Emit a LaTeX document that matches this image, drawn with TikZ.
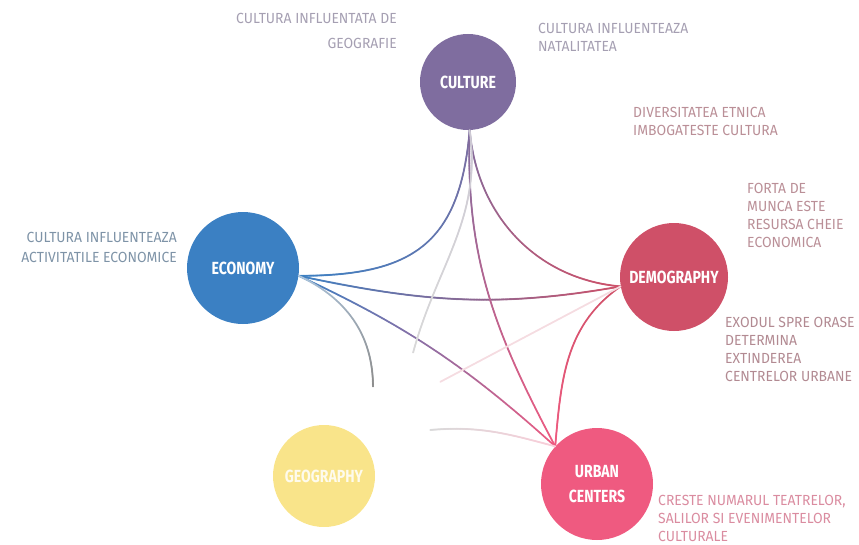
\documentclass[tikz,border=0pt]{standalone}
\usepackage{fontspec}
\setsansfont{Fira Sans}
\newfontfamily\notefont{Fira Sans}[FakeStretch=0.95]
\newfontfamily\circfont{Fira Sans}[FakeStretch=0.8]
\usetikzlibrary{decorations.markings}
\definecolor{cul}{HTML}{7F6D9F}
\definecolor{eco}{HTML}{3B80C3}
\definecolor{dem}{HTML}{CF5068}
\definecolor{geo}{HTML}{F9E48A}
\definecolor{urb}{HTML}{EF5A80}
\begin{document}
\begin{tikzpicture}[x=0.3mm, y=-0.3mm,
  main/.style = {circle, text=white, align=center, inner sep=0pt, font=\circfont\bfseries\fontsize{15}{22}\selectfont},
  note/.style = {inner sep=0pt, font=\notefont\fontsize{12.5}{15.5}\selectfont},
  link/.style 2 args = {postaction={decorate, decoration={markings,
    mark=between positions 0 and 1 step 0.5pt with {
      \pgfmathtruncatemacro\mixval{100-100*(\pgfkeysvalueof{/pgf/decoration/mark info/distance from start}/\pgfdecoratedpathlength)}
      \fill[#1!\mixval!#2] (0,0) circle (0.85pt);}}}}]
\useasboundingbox (0,0) rectangle (859,544);

\node[main, fill=cul, minimum size=28.8mm] (1) at (468,82) {CULTURE};
\node[main, fill=eco, minimum size=33.6mm] (2) at (243,268) {ECONOMY};
\node[main, fill=dem, minimum size=32.4mm] (3) at (674,277) {DEMOGRAPHY};
\node[main, fill=geo, text=white!85!geo, minimum size=30.6mm] (4) at (324,476) {GEOGRAPHY};
\node[main, fill=urb, minimum size=33.6mm] (5) at (597,484) {URBAN\\CENTERS};

\node[note, text=cul!55!gray!70, anchor=north east, align=right, font=\notefont\fontsize{12.5}{21}\selectfont] (6) at (397,13) {CULTURA INFLUENTATA DE\\GEOGRAFIE};
\node[note, text=cul!55!gray!70, anchor=north west, align=left] (7) at (538,23) {CULTURA INFLUENTEAZA\\NATALITATEA};
\node[note, text=dem!45!gray!75, anchor=north west, align=left] (8) at (633,107) {DIVERSITATEA ETNICA\\IMBOGATESTE CULTURA};
\node[note, text=dem!45!gray!75, anchor=north west, align=left] (9) at (747,183) {FORTA DE\\MUNCA ESTE\\RESURSA CHEIE\\ECONOMICA};
\node[note, text=eco!35!gray!85, anchor=north east, align=right, font=\notefont\fontsize{12.5}{17}\selectfont] (10) at (177,232) {CULTURA INFLUENTEAZA\\ACTIVITATILE ECONOMICE};
\node[note, text=dem!40!gray!80, anchor=north west, align=left] (11) at (725,317) {EXODUL SPRE ORASE\\DETERMINA\\EXTINDEREA\\CENTRELOR URBANE};
\node[note, text=urb!70!gray!75, anchor=north west, align=left] (12) at (658,495) {CRESTE NUMARUL TEATRELOR,\\SALILOR SI EVENIMENTELOR\\CULTURALE};

\coordinate (g1) at (373,387);
\coordinate (g2) at (413,353);
\coordinate (g3) at (440,382);
\coordinate (g4) at (430,430);

\path[link={eco}{cul}] (2.-8) to[out=0, in=-95, looseness=1.3] (1.-88);
\path[link={eco}{dem}] (2.-8) to[out=-12, in=190] (3.190);
\path[link={eco}{urb}] (2.-8) to[out=-25, in=138] (5.138);
\path[link={eco!80!gray}{black!45}] (2.-8) to[out=-25, in=90] (g1);
\path[link={cul}{dem}] (1.-88) to[out=-85, in=175] (3.190);
\path[link={cul}{urb}] (1.-88) to[out=-92, in=118] (5.138);
\path[link={cul!70!black}{gray!30}] (1.-88) to[out=-82, in=75] (g2);
\path[link={dem}{urb}] (3.190) to[out=215, in=85] (5.138);
\path[link={dem}{dem!20!white}] (3.190) -- (g3);
\path[link={urb}{gray!30}] (5.138) to[out=165, in=5] (g4);

\end{tikzpicture}
\end{document}
